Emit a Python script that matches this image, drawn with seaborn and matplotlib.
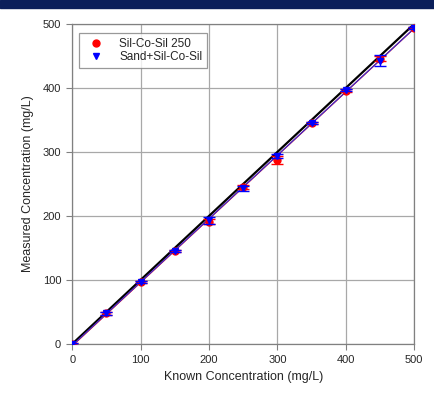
import numpy as np
import pandas as pd
import matplotlib
matplotlib.use("Agg")
import matplotlib.pyplot as plt
import seaborn as sns
from matplotlib.patches import Rectangle

# data
known = [0, 50, 100, 150, 200, 250, 300, 350, 400, 450, 500]
silcosil = [0, 48, 97, 145, 191, 245, 288, 345, 396, 446, 494]
silcosil_err = [1, 2, 2, 2, 4, 3, 6, 2, 2, 4, 2]
sand = [0, 48, 97, 145, 193, 243, 294, 345, 397, 443, 494]
sand_err = [1, 2, 2, 2, 5, 4, 3, 2, 2, 8, 2]
ticks = [0, 100, 200, 300, 400, 500]

df = pd.DataFrame({
    "Known": known,
    "Sil": silcosil,
    "Sand": sand,
})

sns.set_style("white")
plt.rcParams["font.family"] = ["Liberation Sans", "DejaVu Sans"]

fig = plt.figure(figsize=(4.35, 3.94), dpi=100)
fig.patches.append(Rectangle((0, 0.979), 1, 0.021, transform=fig.transFigure,
                             color="#0b1f5a", zorder=0))
ax = fig.add_axes([0.166, 0.127, 0.786, 0.812])

# 1:1 line
ax.plot([0, 500], [0, 500], color="black", lw=1.6, zorder=2)

# regression lines
sns.regplot(data=df, x="Known", y="Sil", scatter=False, ci=None, ax=ax,
            line_kws={"color": "red", "lw": 0.9, "zorder": 3})
sns.regplot(data=df, x="Known", y="Sand", scatter=False, ci=None, ax=ax,
            line_kws={"color": "#3a2fd0", "lw": 0.9, "zorder": 3})

ax.errorbar(known, silcosil, yerr=silcosil_err, fmt="o", color="red",
            ms=5, capsize=4, elinewidth=1, zorder=4, label="Sil-Co-Sil 250")
ax.errorbar(known, sand, yerr=sand_err, fmt="v", color="blue",
            ms=5, capsize=4, elinewidth=1, zorder=5, label="Sand+Sil-Co-Sil")

ax.set_xlim(0, 500)
ax.set_ylim(0, 500)
ax.set_xticks(ticks)
ax.set_yticks(ticks)
ax.grid(True, color="#a8a8a8", lw=0.9)
ax.set_axisbelow(True)
for s in ax.spines.values():
    s.set_color("#808080")
    s.set_linewidth(0.9)
ax.tick_params(axis="both", direction="out", length=4, width=0.8,
               color="#808080", labelsize=8, pad=4, bottom=True, left=True)

ax.set_xlabel("Known Concentration (mg/L)", fontsize=9, labelpad=4)
ax.set_ylabel("Measured Concentration (mg/L)", fontsize=9, labelpad=6)

handles, labels = ax.get_legend_handles_labels()
handles = [h[0] for h in handles]
leg = ax.legend(handles, labels, loc="upper left", fontsize=8.5,
                fancybox=False, frameon=True, borderpad=0.4,
                handletextpad=1.0, labelspacing=0.1,
                bbox_to_anchor=(0.003, 0.99))
leg.get_frame().set_edgecolor("#808080")
leg.get_frame().set_linewidth(0.9)

fig.savefig("out.png", dpi=100)
